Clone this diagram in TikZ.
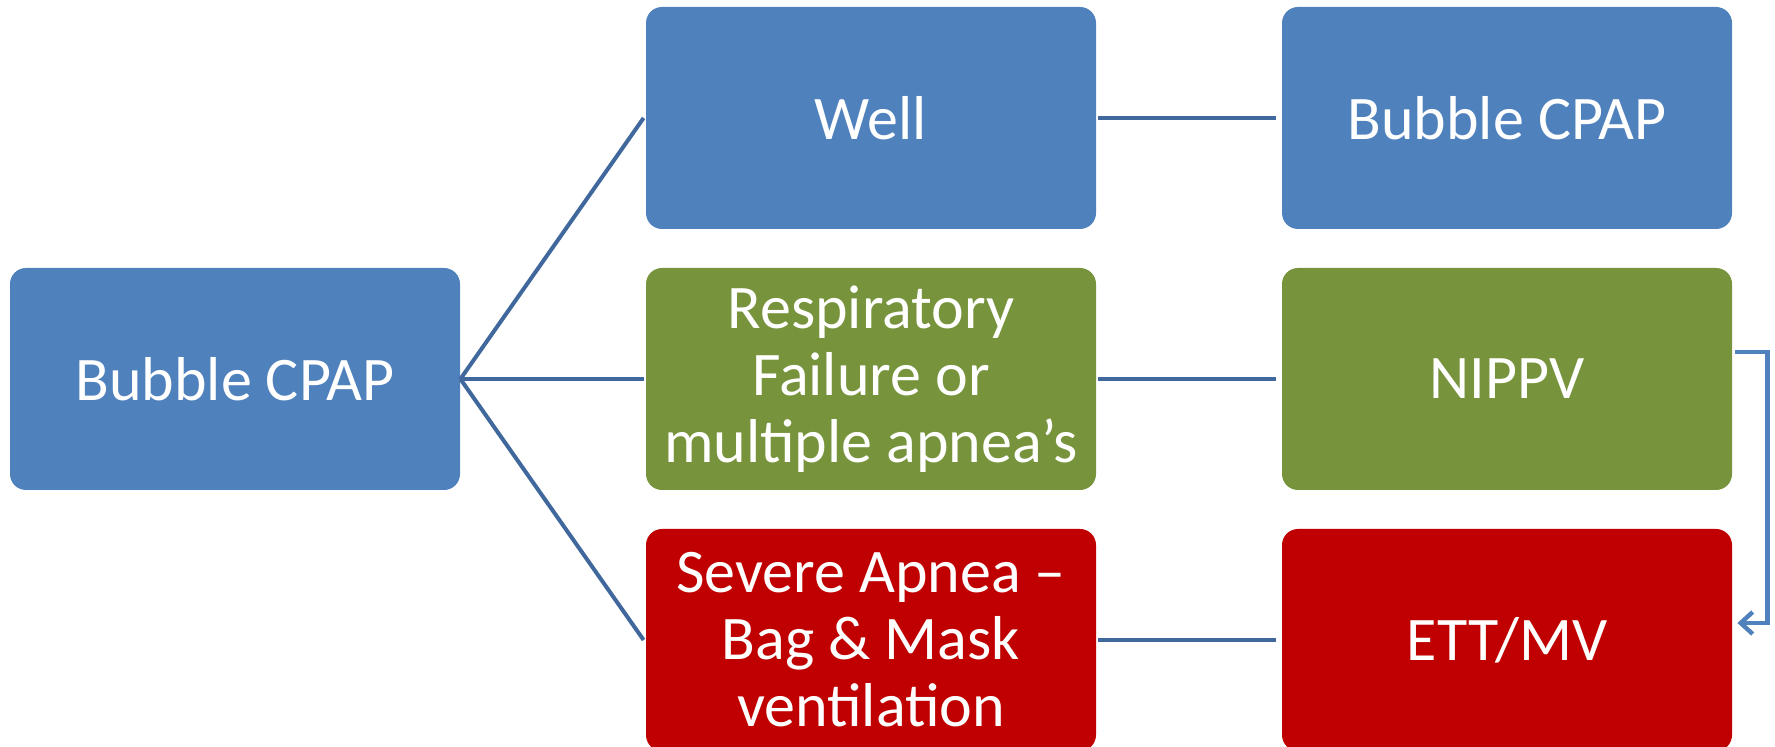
\documentclass[tikz,border=0pt]{standalone}
\usepackage{fontspec}
\setmainfont{Carlito}
\usepackage{tikz}
\usetikzlibrary{arrows.meta}
\definecolor{boxblue}{RGB}{79,129,189}
\definecolor{boxgreen}{RGB}{119,147,60}
\definecolor{boxred}{RGB}{192,0,0}
\definecolor{linkblue}{RGB}{64,104,156}
\tikzset{
  stage/.style={rounded corners=8pt, minimum width=225pt, minimum height=111pt, inner sep=0pt, align=center, text=white, font=\fontsize{31}{33.5}\selectfont},
  link/.style={draw=linkblue, line width=2pt},
  loopback/.style={draw=boxblue, line width=2.2pt, -{Straight Barb[length=6pt,width=11pt]}}
}

\begin{document}
\begin{tikzpicture}[x=0.5pt,y=-0.5pt]
\useasboundingbox (0,0) rectangle (1775,747);
\node [stage, fill=boxblue] (start) at (235,379) {Bubble CPAP};
\node [stage, fill=boxblue] (well) at (871,118) {Well};
\node [stage, fill=boxgreen] (resp) at (871,379) {Respiratory\\Failure or\\multiple apnea’s};
\node [stage, fill=boxred] (severe) at (871,640) {Severe Apnea --\\Bag \& Mask\\ventilation};
\node [stage, fill=boxblue] (cpap) at (1507,118) {Bubble CPAP};
\node [stage, fill=boxgreen] (nippv) at (1507,379) {NIPPV};
\node [stage, fill=boxred] (ett) at (1507,640) {ETT/MV};
\draw [link] (start.east) -- ([xshift=-1pt]well.west);
\draw [link] (start.east) -- ([xshift=-1pt]resp.west);
\draw [link] (start.east) -- ([xshift=-1pt]severe.west);
\draw [link] ([xshift=1pt]well.east) -- ([xshift=-3pt]cpap.west);
\draw [link] ([xshift=1pt]resp.east) -- ([xshift=-3pt]nippv.west);
\draw [link] ([xshift=1pt]severe.east) -- ([xshift=-3pt]ett.west);
\draw [loopback] ([xshift=1.5pt,yshift=13.5pt]nippv.east) -- ++(16pt,0) |- ([xshift=2.5pt,yshift=8.5pt]ett.east);
\end{tikzpicture}
\end{document}
